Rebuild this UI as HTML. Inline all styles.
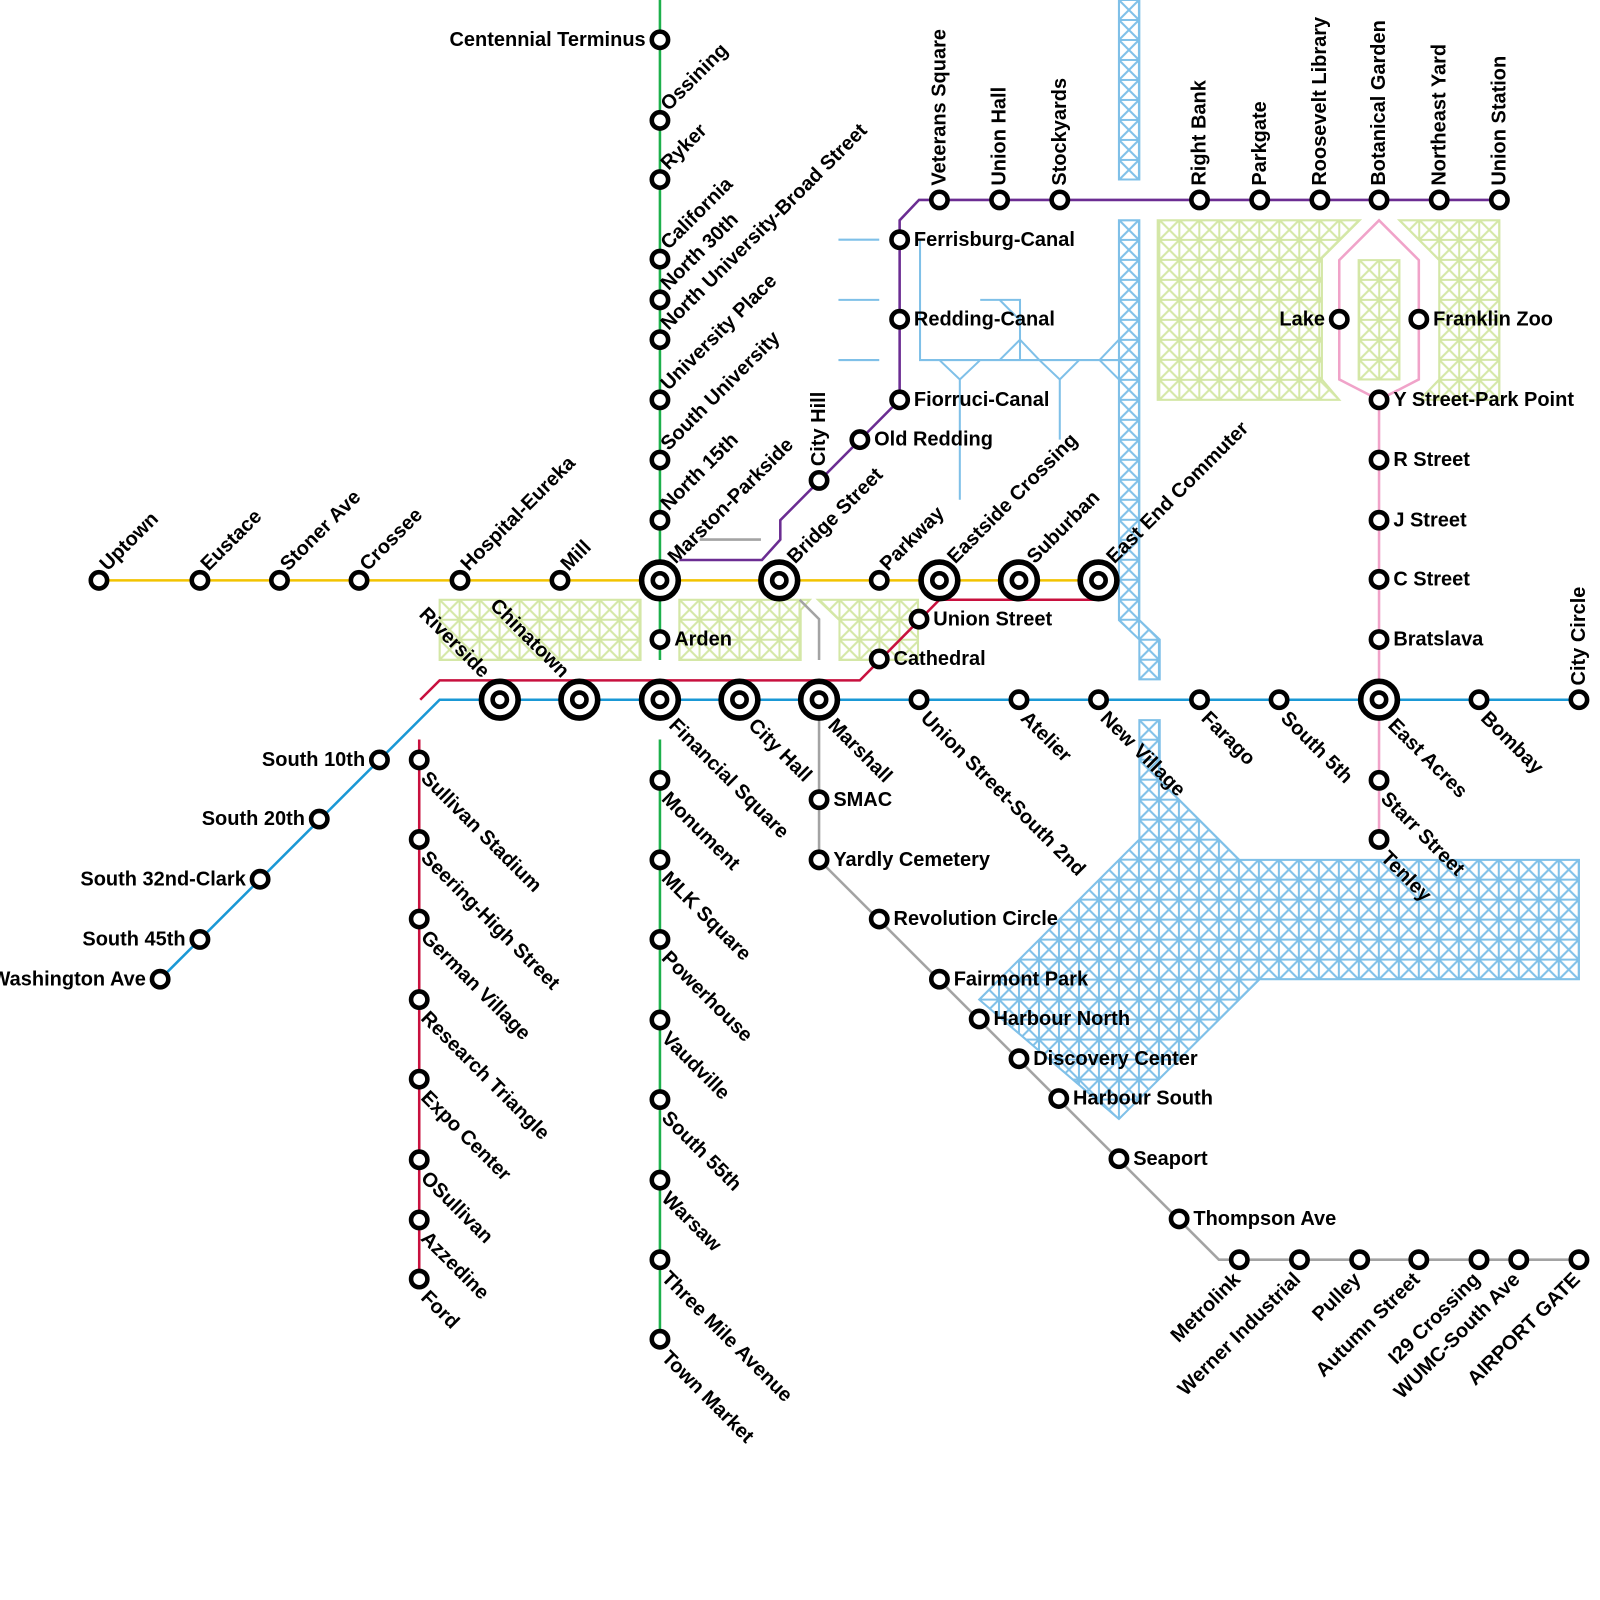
<!DOCTYPE html>
<html><head><meta charset="utf-8"><style>
html,body{margin:0;padding:0;background:#fff;}
svg{display:block;}
text{font-family:"Liberation Sans",Arial,sans-serif;font-weight:bold;font-size:19.6px;fill:#000;}
.st{fill:#fff;stroke:#000;stroke-width:4.5;}
.ic{fill:#fff;stroke:#000;stroke-width:5.5;}
.ln{fill:none;stroke-width:2.5;stroke-linejoin:miter;}
</style></head><body>
<svg width="1600" height="1600" viewBox="0 0 1600 1600" xmlns="http://www.w3.org/2000/svg">
<defs>
<pattern id="hg" patternUnits="userSpaceOnUse" width="19.6" height="19.6" x="431" y="588">
<path d="M0 0H19.6V19.6H0Z M0 0L19.6 19.6 M19.6 0L0 19.6" fill="none" stroke="#d4e7a6" stroke-width="2"/>
</pattern>
<pattern id="hb" patternUnits="userSpaceOnUse" width="19.6" height="19.6" x="1097" y="0">
<path d="M0 0H19.6V19.6H0Z M0 0L19.6 19.6 M19.6 0L0 19.6" fill="none" stroke="#7fc0e8" stroke-width="2"/>
</pattern>
</defs>
<g transform="scale(1.02)">
<g stroke-width="2">
<polygon points="431,588 628,588 628,647 431,647" fill="url(#hg)" stroke="#d4e7a6"/>
<polygon points="666,588 794,588 785,598 785,647 666,647" fill="url(#hg)" stroke="#d4e7a6"/>
<polygon points="802,588 900,588 900,647 823,647 823,608" fill="url(#hg)" stroke="#d4e7a6"/>
<polygon points="1135,216 1333,216 1296,253 1296,372 1313,392 1135,392" fill="url(#hg)" stroke="#d4e7a6"/>
<polygon points="1332,255 1372,255 1372,372 1332,372" fill="url(#hg)" stroke="#d4e7a6"/>
<polygon points="1372,216 1470,216 1470,392 1392,392 1411,372 1411,255" fill="url(#hg)" stroke="#d4e7a6"/>
<polygon points="1097,0 1117,0 1117,176 1097,176" fill="url(#hb)" stroke="#7fc0e8"/>
<polygon points="1097,216 1117,216 1117,608 1137,627 1137,666 1117,666 1117,627 1097,608" fill="url(#hb)" stroke="#7fc0e8"/>
<polygon points="1117,706 1137,706 1137,765 1215,843 1548,843 1548,960 1235,960 1097,1097 960,980 1117,823" fill="url(#hb)" stroke="#7fc0e8"/>
</g>
<g fill="none" stroke="#7fc0e8" stroke-width="2">
<path d="M822 235H862 M822 294H862 M822 353H862"/>
<path d="M902 235V353H1097 M921 353L941 372L961 353 M941 372V490 M1019 353L1039 372L1058 353 M1039 372V431"/>
<path d="M961 294H1000V353 M980 294L1000 314 M980 353L1000 333L1019 353 M1078 353L1097 333 M1078 353L1097 372"/>
</g>
<path class="ln" stroke="#1db04b" d="M647 0V647 M647 725V1313"/>
<path class="ln" stroke="#f2c300" d="M97 569H1077"/>
<path class="ln" stroke="#1a98d5" d="M157 960L431 686H1548"/>
<path class="ln" stroke="#c8103e" d="M412 686L431 667H843L921 588H1077 M411 725V1254"/>
<path class="ln" stroke="#6b2d92" d="M666 549H747L765 529V510L882 392V216L901 196H1470"/>
<path class="ln" stroke="#a3a3a3" d="M686 529H746 M784 588L803 607V647 M803 686V843L1195 1235H1548"/>
<path class="ln" stroke="#f0a3c9" d="M1352 392L1313 372V255L1352 216L1391 255V372L1352 392V823"/>

<g>
<circle class="ic" cx="647" cy="569" r="18"/><circle class="st" cx="647" cy="569" r="7"/>
<circle class="ic" cx="764" cy="569" r="18"/><circle class="st" cx="764" cy="569" r="7"/>
<circle class="ic" cx="921" cy="569" r="18"/><circle class="st" cx="921" cy="569" r="7"/>
<circle class="ic" cx="999" cy="569" r="18"/><circle class="st" cx="999" cy="569" r="7"/>
<circle class="ic" cx="1077" cy="569" r="18"/><circle class="st" cx="1077" cy="569" r="7"/>
<circle class="ic" cx="490" cy="686" r="18"/><circle class="st" cx="490" cy="686" r="7"/>
<circle class="ic" cx="568" cy="686" r="18"/><circle class="st" cx="568" cy="686" r="7"/>
<circle class="ic" cx="647" cy="686" r="18"/><circle class="st" cx="647" cy="686" r="7"/>
<circle class="ic" cx="725" cy="686" r="18"/><circle class="st" cx="725" cy="686" r="7"/>
<circle class="ic" cx="803" cy="686" r="18"/><circle class="st" cx="803" cy="686" r="7"/>
<circle class="ic" cx="1352" cy="686" r="18"/><circle class="st" cx="1352" cy="686" r="7"/>
</g>
<g>
<circle class="st" cx="647" cy="39" r="8"/><circle class="st" cx="647" cy="118" r="8"/><circle class="st" cx="647" cy="176" r="8"/>
<circle class="st" cx="647" cy="254" r="8"/><circle class="st" cx="647" cy="294" r="8"/><circle class="st" cx="647" cy="333" r="8"/>
<circle class="st" cx="647" cy="392" r="8"/><circle class="st" cx="647" cy="451" r="8"/><circle class="st" cx="647" cy="510" r="8"/>
<circle class="st" cx="647" cy="627" r="8"/>
<circle class="st" cx="647" cy="765" r="8"/><circle class="st" cx="647" cy="843" r="8"/><circle class="st" cx="647" cy="921" r="8"/>
<circle class="st" cx="647" cy="1000" r="8"/><circle class="st" cx="647" cy="1078" r="8"/><circle class="st" cx="647" cy="1157" r="8"/>
<circle class="st" cx="647" cy="1235" r="8"/><circle class="st" cx="647" cy="1313" r="8"/>
<circle class="st" cx="97" cy="569" r="8"/><circle class="st" cx="196" cy="569" r="8"/><circle class="st" cx="274" cy="569" r="8"/>
<circle class="st" cx="352" cy="569" r="8"/><circle class="st" cx="451" cy="569" r="8"/><circle class="st" cx="549" cy="569" r="8"/>
<circle class="st" cx="862" cy="569" r="8"/>
<circle class="st" cx="901" cy="686" r="8"/><circle class="st" cx="999" cy="686" r="8"/><circle class="st" cx="1077" cy="686" r="8"/>
<circle class="st" cx="1176" cy="686" r="8"/><circle class="st" cx="1254" cy="686" r="8"/><circle class="st" cx="1450" cy="686" r="8"/>
<circle class="st" cx="1548" cy="686" r="8"/>
<circle class="st" cx="372" cy="745" r="8"/><circle class="st" cx="313" cy="803" r="8"/><circle class="st" cx="255" cy="862" r="8"/>
<circle class="st" cx="196" cy="921" r="8"/><circle class="st" cx="157" cy="960" r="8"/>
<circle class="st" cx="411" cy="745" r="8"/><circle class="st" cx="411" cy="823" r="8"/><circle class="st" cx="411" cy="901" r="8"/>
<circle class="st" cx="411" cy="980" r="8"/><circle class="st" cx="411" cy="1058" r="8"/><circle class="st" cx="411" cy="1137" r="8"/>
<circle class="st" cx="411" cy="1196" r="8"/><circle class="st" cx="411" cy="1254" r="8"/>
<circle class="st" cx="862" cy="646" r="8"/><circle class="st" cx="901" cy="607" r="8"/>
<circle class="st" cx="882" cy="235" r="8"/><circle class="st" cx="882" cy="313" r="8"/><circle class="st" cx="882" cy="392" r="8"/>
<circle class="st" cx="843" cy="431" r="8"/><circle class="st" cx="803" cy="471" r="8"/>
<circle class="st" cx="921" cy="196" r="8"/><circle class="st" cx="980" cy="196" r="8"/><circle class="st" cx="1039" cy="196" r="8"/>
<circle class="st" cx="1176" cy="196" r="8"/><circle class="st" cx="1235" cy="196" r="8"/><circle class="st" cx="1294" cy="196" r="8"/>
<circle class="st" cx="1352" cy="196" r="8"/><circle class="st" cx="1411" cy="196" r="8"/><circle class="st" cx="1470" cy="196" r="8"/>
<circle class="st" cx="803" cy="784" r="8"/><circle class="st" cx="803" cy="843" r="8"/><circle class="st" cx="862" cy="901" r="8"/>
<circle class="st" cx="921" cy="960" r="8"/><circle class="st" cx="960" cy="999" r="8"/><circle class="st" cx="999" cy="1038" r="8"/>
<circle class="st" cx="1038" cy="1077" r="8"/><circle class="st" cx="1097" cy="1136" r="8"/><circle class="st" cx="1156" cy="1195" r="8"/>
<circle class="st" cx="1215" cy="1235" r="8"/><circle class="st" cx="1274" cy="1235" r="8"/><circle class="st" cx="1333" cy="1235" r="8"/>
<circle class="st" cx="1391" cy="1235" r="8"/><circle class="st" cx="1450" cy="1235" r="8"/><circle class="st" cx="1489" cy="1235" r="8"/>
<circle class="st" cx="1548" cy="1235" r="8"/>
<circle class="st" cx="1352" cy="392" r="8"/><circle class="st" cx="1352" cy="451" r="8"/><circle class="st" cx="1352" cy="510" r="8"/>
<circle class="st" cx="1352" cy="568" r="8"/><circle class="st" cx="1352" cy="627" r="8"/><circle class="st" cx="1352" cy="765" r="8"/>
<circle class="st" cx="1352" cy="823" r="8"/><circle class="st" cx="1313" cy="313" r="8"/><circle class="st" cx="1391" cy="313" r="8"/>
</g>

<g>
<text x="661" y="633">Arden</text>
<text x="896" y="241">Ferrisburg-Canal</text>
<text x="896" y="319">Redding-Canal</text>
<text x="896" y="398">Fiorruci-Canal</text>
<text x="857" y="437">Old Redding</text>
<text x="915" y="613">Union Street</text>
<text x="876" y="652">Cathedral</text>
<text x="817" y="790">SMAC</text>
<text x="817" y="849">Yardly Cemetery</text>
<text x="876" y="907">Revolution Circle</text>
<text x="935" y="966">Fairmont Park</text>
<text x="974" y="1005">Harbour North</text>
<text x="1013" y="1044">Discovery Center</text>
<text x="1052" y="1083">Harbour South</text>
<text x="1111" y="1142">Seaport</text>
<text x="1170" y="1201">Thompson Ave</text>
<text x="1366" y="398">Y Street-Park Point</text>
<text x="1366" y="457">R Street</text>
<text x="1366" y="516">J Street</text>
<text x="1366" y="574">C Street</text>
<text x="1366" y="633">Bratslava</text>
<text x="1405" y="319">Franklin Zoo</text>
</g>
<g text-anchor="end">
<text x="633" y="45">Centennial Terminus</text>
<text x="1299" y="319">Lake</text>
<text x="358" y="751">South 10th</text>
<text x="299" y="809">South 20th</text>
<text x="241" y="868">South 32nd-Clark</text>
<text x="182" y="927">South 45th</text>
<text x="143" y="966">Washington Ave</text>
</g>
<g>
<text transform="translate(647,118) rotate(-45)" x="12" y="0">Ossining</text>
<text transform="translate(647,176) rotate(-45)" x="12" y="0">Ryker</text>
<text transform="translate(647,254) rotate(-45)" x="12" y="0">California</text>
<text transform="translate(647,294) rotate(-45)" x="12" y="0">North 30th</text>
<text transform="translate(647,333) rotate(-45)" x="12" y="0">North University-Broad Street</text>
<text transform="translate(647,392) rotate(-45)" x="12" y="0">University Place</text>
<text transform="translate(647,451) rotate(-45)" x="12" y="0">South University</text>
<text transform="translate(647,510) rotate(-45)" x="12" y="0">North 15th</text>
<text transform="translate(647,569) rotate(-45)" x="22" y="0">Marston-Parkside</text>
<text transform="translate(97,569) rotate(-45)" x="12" y="0">Uptown</text>
<text transform="translate(196,569) rotate(-45)" x="12" y="0">Eustace</text>
<text transform="translate(274,569) rotate(-45)" x="12" y="0">Stoner Ave</text>
<text transform="translate(352,569) rotate(-45)" x="12" y="0">Crossee</text>
<text transform="translate(451,569) rotate(-45)" x="12" y="0">Hospital-Eureka</text>
<text transform="translate(549,569) rotate(-45)" x="12" y="0">Mill</text>
<text transform="translate(764,569) rotate(-45)" x="22" y="0">Bridge Street</text>
<text transform="translate(862,569) rotate(-45)" x="12" y="0">Parkway</text>
<text transform="translate(921,569) rotate(-45)" x="22" y="0">Eastside Crossing</text>
<text transform="translate(999,569) rotate(-45)" x="22" y="0">Suburban</text>
<text transform="translate(1077,569) rotate(-45)" x="22" y="0">East End Commuter</text>
</g>
<g>
<text transform="translate(647,686) rotate(45)" x="24" y="13">Financial Square</text>
<text transform="translate(725,686) rotate(45)" x="24" y="13">City Hall</text>
<text transform="translate(803,686) rotate(45)" x="24" y="13">Marshall</text>
<text transform="translate(901,686) rotate(45)" x="14" y="13">Union Street-South 2nd</text>
<text transform="translate(999,686) rotate(45)" x="14" y="13">Atelier</text>
<text transform="translate(1077,686) rotate(45)" x="14" y="13">New Village</text>
<text transform="translate(1176,686) rotate(45)" x="14" y="13">Farago</text>
<text transform="translate(1254,686) rotate(45)" x="14" y="13">South 5th</text>
<text transform="translate(1352,686) rotate(45)" x="24" y="13">East Acres</text>
<text transform="translate(1450,686) rotate(45)" x="14" y="13">Bombay</text>
<text transform="translate(1352,765) rotate(45)" x="14" y="13">Starr Street</text>
<text transform="translate(1352,823) rotate(45)" x="14" y="13">Tenley</text>
<text transform="translate(647,765) rotate(45)" x="14" y="13">Monument</text>
<text transform="translate(647,843) rotate(45)" x="14" y="13">MLK Square</text>
<text transform="translate(647,921) rotate(45)" x="14" y="13">Powerhouse</text>
<text transform="translate(647,1000) rotate(45)" x="14" y="13">Vaudville</text>
<text transform="translate(647,1078) rotate(45)" x="14" y="13">South 55th</text>
<text transform="translate(647,1157) rotate(45)" x="14" y="13">Warsaw</text>
<text transform="translate(647,1235) rotate(45)" x="14" y="13">Three Mile Avenue</text>
<text transform="translate(647,1313) rotate(45)" x="14" y="13">Town Market</text>
<text transform="translate(411,745) rotate(45)" x="14" y="13">Sullivan Stadium</text>
<text transform="translate(411,823) rotate(45)" x="14" y="13">Seering-High Street</text>
<text transform="translate(411,901) rotate(45)" x="14" y="13">German Village</text>
<text transform="translate(411,980) rotate(45)" x="14" y="13">Research Triangle</text>
<text transform="translate(411,1058) rotate(45)" x="14" y="13">Expo Center</text>
<text transform="translate(411,1137) rotate(45)" x="14" y="13">OSullivan</text>
<text transform="translate(411,1196) rotate(45)" x="14" y="13">Azzedine</text>
<text transform="translate(411,1254) rotate(45)" x="14" y="13">Ford</text>
</g>
<g text-anchor="end">
<text transform="translate(490,686) rotate(45)" x="-27" y="-2">Riverside</text>
<text transform="translate(568,686) rotate(45)" x="-27" y="-2">Chinatown</text>
</g>
<g text-anchor="end">
<text transform="translate(1215,1235) rotate(-45)" x="-13" y="16">Metrolink</text>
<text transform="translate(1274,1235) rotate(-45)" x="-13" y="16">Werner Industrial</text>
<text transform="translate(1333,1235) rotate(-45)" x="-13" y="16">Pulley</text>
<text transform="translate(1391,1235) rotate(-45)" x="-13" y="16">Autumn Street</text>
<text transform="translate(1450,1235) rotate(-45)" x="-13" y="16">I29 Crossing</text>
<text transform="translate(1489,1235) rotate(-45)" x="-13" y="16">WUMC-South Ave</text>
<text transform="translate(1548,1235) rotate(-45)" x="-13" y="16">AIRPORT GATE</text>
</g>
<g>
<text transform="translate(921,196) rotate(-90)" x="14" y="6">Veterans Square</text>
<text transform="translate(980,196) rotate(-90)" x="14" y="6">Union Hall</text>
<text transform="translate(1039,196) rotate(-90)" x="14" y="6">Stockyards</text>
<text transform="translate(1176,196) rotate(-90)" x="14" y="6">Right Bank</text>
<text transform="translate(1235,196) rotate(-90)" x="14" y="6">Parkgate</text>
<text transform="translate(1294,196) rotate(-90)" x="14" y="6">Roosevelt Library</text>
<text transform="translate(1352,196) rotate(-90)" x="14" y="6">Botanical Garden</text>
<text transform="translate(1411,196) rotate(-90)" x="14" y="6">Northeast Yard</text>
<text transform="translate(1470,196) rotate(-90)" x="14" y="6">Union Station</text>
<text transform="translate(803,471) rotate(-90)" x="14" y="6">City Hill</text>
<text transform="translate(1548,686) rotate(-90)" x="14" y="6">City Circle</text>
</g>
</g>
</svg>
</body></html>
